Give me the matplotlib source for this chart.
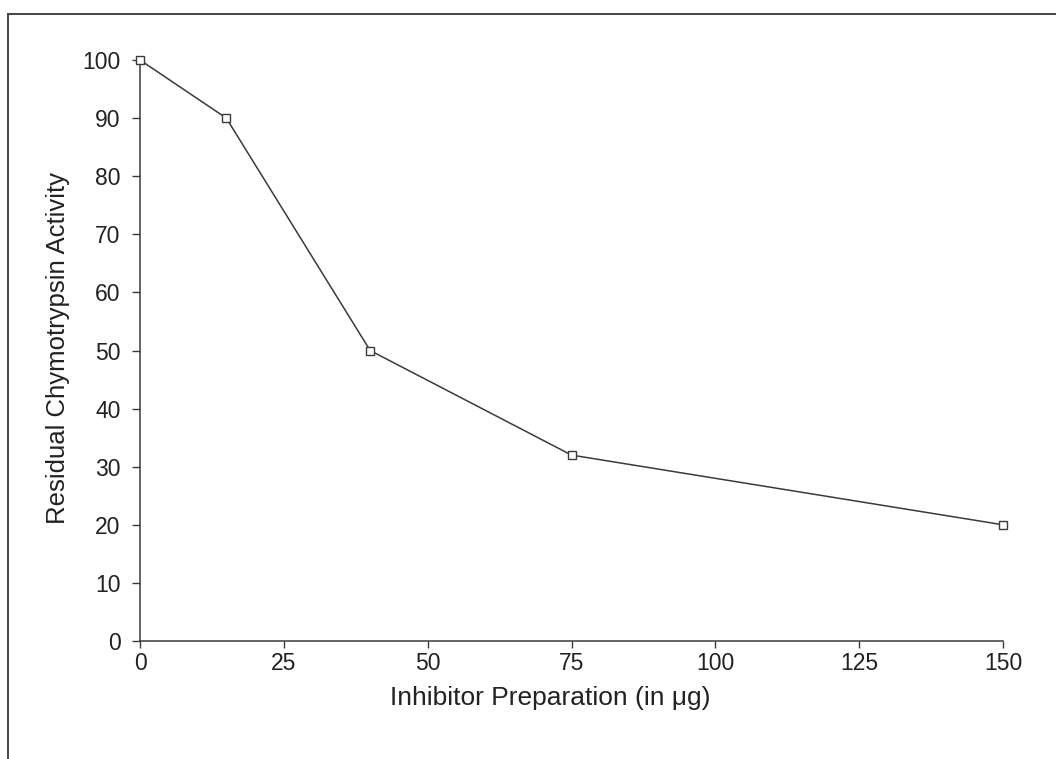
import numpy as np
import matplotlib.pyplot as plt
from matplotlib.lines import Line2D

plt.rcParams['font.family'] = ['Liberation Sans', 'DejaVu Sans']

# inhibitor amount (ug) vs residual activity (%)
dose = [0, 15, 40, 75, 150]
activity = [100, 90, 50, 32, 20]
xticks = [0, 25, 50, 75, 100, 125, 150]
yticks = [0, 10, 20, 30, 40, 50, 60, 70, 80, 90, 100]

ink = '#3a3a3a'

fig = plt.figure(figsize=(10.56, 7.59), dpi=100)
ax = fig.add_axes([0.1326, 0.1555, 0.8172, 0.7654])

ax.plot(dose, activity, color=ink, lw=1.1, marker='s', ms=6,
        mfc='white', mec=ink, mew=1.0, clip_on=False, zorder=3)

ax.set_xlim(0, 150)
ax.set_ylim(0, 100)
ax.set_xticks(xticks)
ax.set_yticks(yticks)
ax.spines['top'].set_visible(False)
ax.spines['right'].set_visible(False)
for s in ('left', 'bottom'):
    ax.spines[s].set_color(ink)
    ax.spines[s].set_linewidth(1.1)
ax.tick_params(direction='out', length=5, width=1.0, color=ink,
               labelsize=16.5, labelcolor='#222222', pad=3)
ax.tick_params(axis='y', length=6, pad=8)

ax.set_xlabel('Inhibitor Preparation (in \u03bcg)', fontsize=19, color='#222222')
ax.set_ylabel('Residual Chymotrypsin Activity', fontsize=18.5, color='#222222')
ax.xaxis.set_label_coords(0.475, -0.077)
ax.yaxis.set_label_coords(-0.081, 0.505)

# outer frame: top and left edges
fig.add_artist(Line2D([0.0076, 1.0], [0.9816, 0.9816], transform=fig.transFigure,
                      color='#444444', lw=1.4))
fig.add_artist(Line2D([0.0076, 0.0076], [0.0, 0.9816], transform=fig.transFigure,
                      color='#444444', lw=1.4))

fig.savefig('out.png', dpi=100)
